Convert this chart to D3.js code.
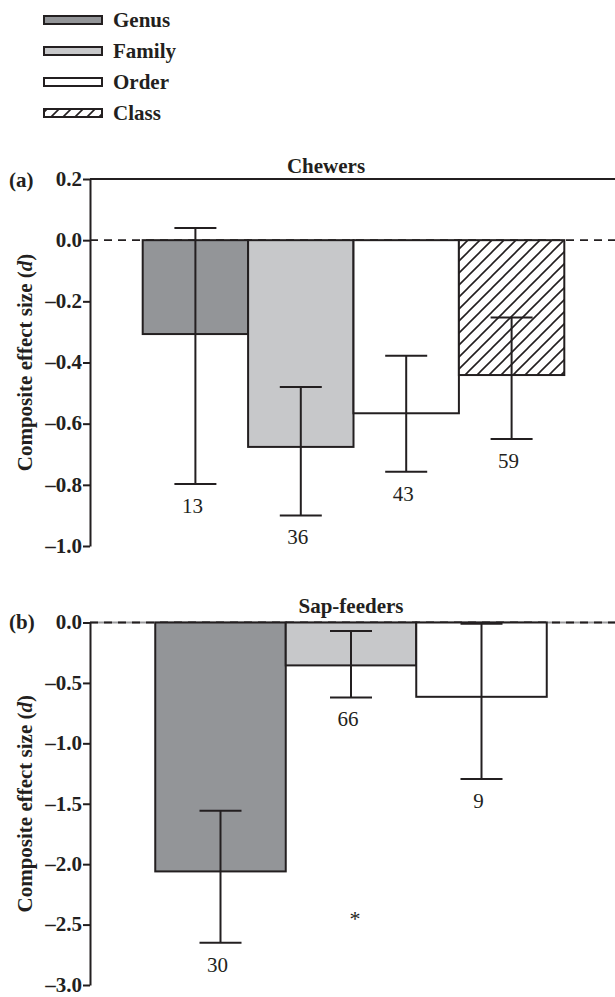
<!DOCTYPE html>
<html>
<head>
<meta charset="utf-8">
<script src="https://cdn.jsdelivr.net/npm/d3@7"></script>
<style>
  body { margin: 0; background: #fff; }
  text { font-family: "Liberation Serif", "Times New Roman", serif; fill: #231f20; }
</style>
</head>
<body>
<script>
'use strict';

// taxonomic levels (legend + bars)
const levels = ["Genus", "Family", "Order", "Class"];
const fills = ["#939598", "#c7c8ca", "#ffffff", "url(#hatch)"];

// (a) chewers
const chewLevels = ["Genus", "Family", "Order", "Class"];
const chewMean = [-0.307, -0.676, -0.566, -0.441];
const chewUpper = [0.04, -0.48, -0.378, -0.253];
const chewLower = [-0.797, -0.90, -0.757, -0.65];
const chewN = ["13", "36", "43", "59"];
const chewTicks = [0.2, 0.0, -0.2, -0.4, -0.6, -0.8, -1.0];

// (b) sap-feeders
const sapLevels = ["Genus", "Family", "Order"];
const sapMean = [-2.06, -0.355, -0.615];
const sapUpper = [-1.557, -0.07, -0.01];
const sapLower = [-2.65, -0.62, -1.295];
const sapN = ["30", "66", "9"];
const sapTicks = [0.0, -0.5, -1.0, -1.5, -2.0, -2.5, -3.0];
const sapStar = { level: "Family", value: -2.41 };

(function() {

  const ink = "#231f20";
  let svg = d3.select("body").append("svg")
    .attr("width", 615)
    .attr("height", 997);

  // hatch pattern for Class
  let pat = svg.append("defs").append("pattern")
    .attr("id", "hatch")
    .attr("patternUnits", "userSpaceOnUse")
    .attr("width", 12)
    .attr("height", 12);
  pat.append("rect").attr("width", 12).attr("height", 12).attr("fill", "#fff");
  pat.append("path")
    .attr("d", "M-3,3 L3,-3 M0,12 L12,0 M9,15 L15,9")
    .attr("stroke", ink)
    .attr("stroke-width", 1.6);

  drawLegend();

  drawPanel({
    cats: chewLevels, mean: chewMean, upper: chewUpper, lower: chewLower, n: chewN,
    ticks: chewTicks, domain: [0.2, -1.0], yRange: [179, 546], xRange: [90, 617],
    title: "Chewers", titleX: 326, titleY: 173, tag: "(a)", tagY: 187,
    topLine: 0.2, grayZero: false
  });

  drawPanel({
    cats: sapLevels, mean: sapMean, upper: sapUpper, lower: sapLower, n: sapN,
    ticks: sapTicks, domain: [0.0, -3.0], yRange: [622.5, 985], xRange: [90, 612],
    title: "Sap-feeders", titleX: 351, titleY: 613, tag: "(b)", tagY: 629,
    topLine: null, grayZero: true, star: sapStar
  });

  function drawLegend() {
    let g = svg.append("g");
    let rowY = function(d, i) { return 20 + i * 31; };
    g.selectAll("rect")
      .data(levels)
      .enter()
      .append("rect")
        .attr("x", 44)
        .attr("y", (d, i) => rowY(d, i) - 4)
        .attr("width", 58)
        .attr("height", 8)
        .attr("fill", (d, i) => fills[i])
        .attr("stroke", ink)
        .attr("stroke-width", 2);
    g.selectAll("text")
      .data(levels)
      .enter()
      .append("text")
        .attr("x", 113)
        .attr("y", (d, i) => rowY(d, i) + 7)
        .style("font-size", "21px")
        .style("font-weight", "bold")
        .text(d => d);
  }

  function drawPanel(p) {
    let x = d3.scaleBand()
      .domain(p.cats)
      .range(p.xRange)
      .paddingInner(0)
      .paddingOuter(0.5);
    let y = d3.scaleLinear()
      .domain(p.domain)
      .range(p.yRange);

    let g = svg.append("g");

    // zero line
    if (p.grayZero) {
      g.append("line")
        .attr("x1", 90).attr("x2", 615)
        .attr("y1", y(0)).attr("y2", y(0))
        .attr("stroke", "#9d9d9f")
        .attr("stroke-width", 2);
    }
    g.append("line")
      .attr("x1", 90).attr("x2", 615)
      .attr("y1", y(0)).attr("y2", y(0))
      .attr("stroke", ink)
      .attr("stroke-width", 1.8)
      .attr("stroke-dasharray", "8,6");

    // top frame line
    if (p.topLine !== null) {
      g.append("line")
        .attr("x1", 90).attr("x2", 615)
        .attr("y1", y(p.topLine)).attr("y2", y(p.topLine))
        .attr("stroke", ink)
        .attr("stroke-width", 2);
    }

    // bars
    g.selectAll(".bar")
      .data(p.cats)
      .enter()
      .append("rect")
        .attr("x", d => x(d))
        .attr("y", y(0))
        .attr("width", x.bandwidth())
        .attr("height", (d, i) => y(p.mean[i]) - y(0))
        .attr("fill", d => fills[levels.indexOf(d)])
        .attr("stroke", ink)
        .attr("stroke-width", 2);

    // error bars
    let cx = d => x(d) + x.bandwidth() / 2;
    let eb = g.selectAll(".err")
      .data(p.cats)
      .enter()
      .append("g")
        .attr("stroke", ink)
        .attr("stroke-width", 2);
    eb.append("line")
      .attr("x1", cx).attr("x2", cx)
      .attr("y1", (d, i) => y(p.upper[i]))
      .attr("y2", (d, i) => y(p.lower[i]));
    eb.append("line")
      .attr("x1", d => cx(d) - 21).attr("x2", d => cx(d) + 21)
      .attr("y1", (d, i) => y(p.upper[i]))
      .attr("y2", (d, i) => y(p.upper[i]));
    eb.append("line")
      .attr("x1", d => cx(d) - 21).attr("x2", d => cx(d) + 21)
      .attr("y1", (d, i) => y(p.lower[i]))
      .attr("y2", (d, i) => y(p.lower[i]));

    // sample sizes
    g.selectAll(".n")
      .data(p.cats)
      .enter()
      .append("text")
        .attr("x", d => cx(d) - 3)
        .attr("y", (d, i) => y(p.lower[i]) + 29)
        .attr("text-anchor", "middle")
        .style("font-size", "21px")
        .text((d, i) => p.n[i]);

    if (p.star) {
      g.append("text")
        .attr("x", cx(p.star.level) + 4)
        .attr("y", y(p.star.value) + 12)
        .attr("text-anchor", "middle")
        .style("font-size", "22px")
        .text("*");
    }

    // y axis
    let fmt = d => (d < 0 ? "\u2013" : "") + Math.abs(d).toFixed(1);
    let axis = d3.axisLeft(y)
      .tickValues(p.ticks)
      .tickFormat(fmt)
      .tickSize(7)
      .tickSizeOuter(0)
      .tickPadding(1);
    let ag = g.append("g")
      .attr("transform", "translate(90,0)")
      .call(axis);
    ag.select(".domain").attr("stroke", ink).attr("stroke-width", 2);
    ag.selectAll(".tick line").attr("stroke", ink).attr("stroke-width", 2);
    ag.selectAll(".tick text")
      .attr("fill", ink)
      .attr("dy", "0.3em")
      .style("font-family", "'Liberation Serif', 'Times New Roman', serif")
      .style("font-size", "21px")
      .style("font-weight", "bold");

    // axis title
    let mid = (p.yRange[0] + p.yRange[1]) / 2;
    let lab = g.append("text")
      .attr("transform", "translate(32," + mid + ")rotate(-90)")
      .attr("text-anchor", "middle")
      .style("font-size", "21px")
      .style("font-weight", "bold");
    lab.append("tspan").text("Composite effect size (");
    lab.append("tspan").style("font-style", "italic").text("d");
    lab.append("tspan").text(")");

    // panel title and tag
    g.append("text")
      .attr("x", p.titleX)
      .attr("y", p.titleY)
      .attr("text-anchor", "middle")
      .style("font-size", "21px")
      .style("font-weight", "bold")
      .text(p.title);
    g.append("text")
      .attr("x", 9)
      .attr("y", p.tagY)
      .style("font-size", "21px")
      .style("font-weight", "bold")
      .text(p.tag);
  }

})();
</script>
</body>
</html>
